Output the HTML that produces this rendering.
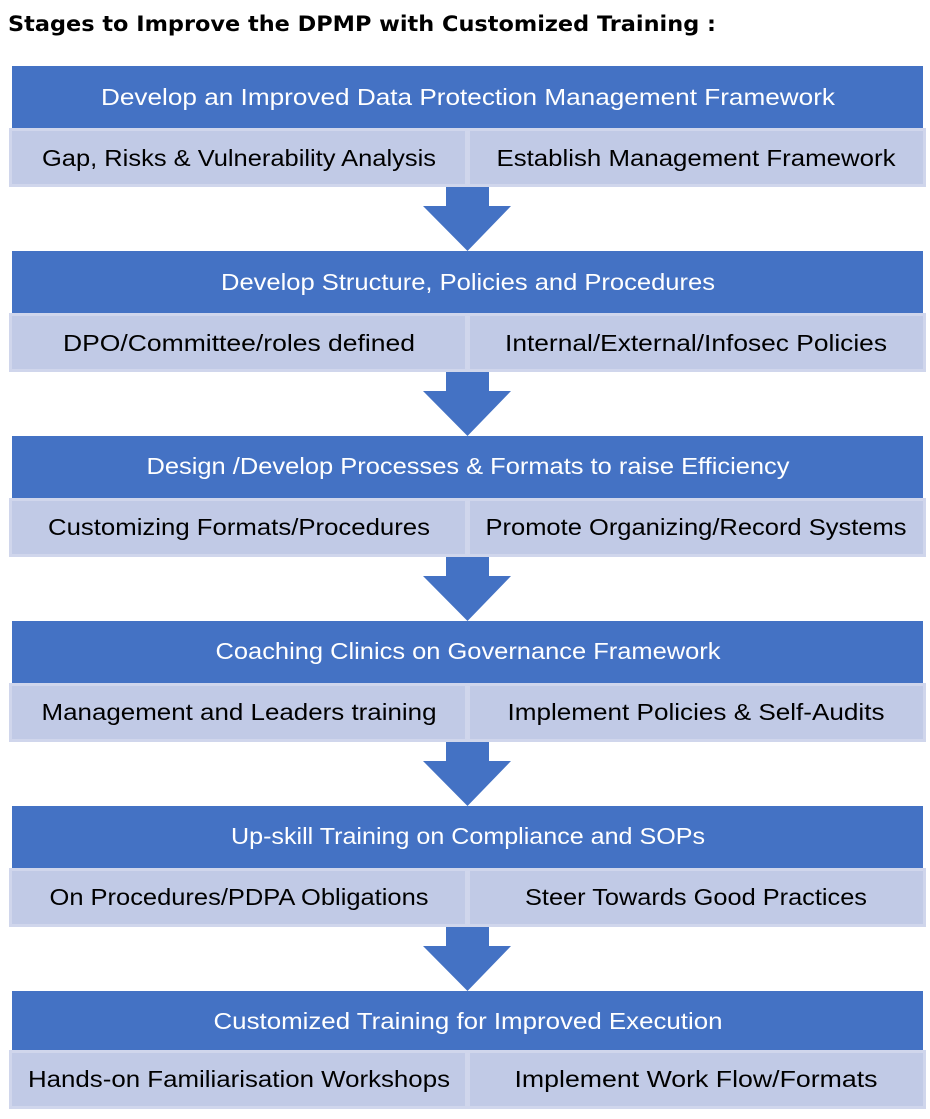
<!DOCTYPE html>
<html>
<head>
<meta charset="utf-8">
<style>
  html, body { margin: 0; padding: 0; background: #ffffff; }
  body { width: 930px; height: 1119px; overflow: hidden; }
  svg { display: block; }
  .t { font-family: "DejaVu Sans", "Liberation Sans", sans-serif; font-weight: bold; font-size: 21px; fill: #000; }
  .h { font-family: "Liberation Sans", sans-serif; font-size: 23px; fill: #ffffff; }
  .s { font-family: "Liberation Sans", sans-serif; font-size: 23px; fill: #000000; }
</style>
</head>
<body>
<svg width="930" height="1119" viewBox="0 0 930 1119" xmlns="http://www.w3.org/2000/svg">
  <defs>
    <g id="blk">
      <rect x="12" y="0" width="911" height="63" fill="#4472c4"/>
      <rect x="10.5" y="63.5" width="456" height="56" fill="#c1cae6" stroke="#d0d6ec" stroke-width="3"/>
      <rect x="468.5" y="63.5" width="456" height="56" fill="#c1cae6" stroke="#d0d6ec" stroke-width="3"/>
    </g>
    <polygon id="arr" points="446,0 489,0 489,19 511,19 467.5,64 423,19 446,19" fill="#4472c4"/>
  </defs>

  <text class="t" x="8" y="31" textLength="708" lengthAdjust="spacingAndGlyphs">Stages to Improve the DPMP with Customized Training :</text>

  <!-- Block 1 -->
  <g transform="translate(0,66)">
    <use href="#blk"/>
    <use href="#arr" transform="translate(0,121)"/>
    <text class="h" x="468" y="39" text-anchor="middle" textLength="734" lengthAdjust="spacingAndGlyphs">Develop an Improved Data Protection Management Framework</text>
    <text class="s" x="239" y="100" text-anchor="middle" textLength="394" lengthAdjust="spacingAndGlyphs">Gap, Risks &amp; Vulnerability Analysis</text>
    <text class="s" x="696" y="100" text-anchor="middle" textLength="399" lengthAdjust="spacingAndGlyphs">Establish Management Framework</text>
  </g>

  <!-- Block 2 -->
  <g transform="translate(0,251)">
    <use href="#blk"/>
    <use href="#arr" transform="translate(0,121)"/>
    <text class="h" x="468" y="39" text-anchor="middle" textLength="494" lengthAdjust="spacingAndGlyphs">Develop Structure, Policies and Procedures</text>
    <text class="s" x="239" y="100" text-anchor="middle" textLength="352" lengthAdjust="spacingAndGlyphs">DPO/Committee/roles defined</text>
    <text class="s" x="696" y="100" text-anchor="middle" textLength="382" lengthAdjust="spacingAndGlyphs">Internal/External/Infosec Policies</text>
  </g>

  <!-- Block 3 -->
  <g transform="translate(0,436)">
    <use href="#blk"/>
    <use href="#arr" transform="translate(0,121)"/>
    <text class="h" x="468" y="38" text-anchor="middle" textLength="643" lengthAdjust="spacingAndGlyphs">Design /Develop Processes &amp; Formats to raise Efficiency</text>
    <text class="s" x="239" y="99" text-anchor="middle" textLength="382" lengthAdjust="spacingAndGlyphs">Customizing Formats/Procedures</text>
    <text class="s" x="696" y="99" text-anchor="middle" textLength="421" lengthAdjust="spacingAndGlyphs">Promote Organizing/Record Systems</text>
  </g>

  <!-- Block 4 -->
  <g transform="translate(0,621)">
    <use href="#blk"/>
    <use href="#arr" transform="translate(0,121)"/>
    <text class="h" x="468" y="38" text-anchor="middle" textLength="505" lengthAdjust="spacingAndGlyphs">Coaching Clinics on Governance Framework</text>
    <text class="s" x="239" y="99" text-anchor="middle" textLength="395" lengthAdjust="spacingAndGlyphs">Management and Leaders training</text>
    <text class="s" x="696" y="99" text-anchor="middle" textLength="377" lengthAdjust="spacingAndGlyphs">Implement Policies &amp; Self-Audits</text>
  </g>

  <!-- Block 5 -->
  <g transform="translate(0,806)">
    <use href="#blk"/>
    <use href="#arr" transform="translate(0,121)"/>
    <text class="h" x="468" y="38" text-anchor="middle" textLength="474" lengthAdjust="spacingAndGlyphs">Up-skill Training on Compliance and SOPs</text>
    <text class="s" x="239" y="99" text-anchor="middle" textLength="379" lengthAdjust="spacingAndGlyphs">On Procedures/PDPA Obligations</text>
    <text class="s" x="696" y="99" text-anchor="middle" textLength="342" lengthAdjust="spacingAndGlyphs">Steer Towards Good Practices</text>
  </g>

  <!-- Block 6 -->
  <g transform="translate(0,991)">
    <rect x="12" y="0" width="911" height="60" fill="#4472c4"/>
    <rect x="10.5" y="60.5" width="456" height="56" fill="#c1cae6" stroke="#d0d6ec" stroke-width="3"/>
    <rect x="468.5" y="60.5" width="456" height="56" fill="#c1cae6" stroke="#d0d6ec" stroke-width="3"/>
    <text class="h" x="468" y="38" text-anchor="middle" textLength="509" lengthAdjust="spacingAndGlyphs">Customized Training for Improved Execution</text>
    <text class="s" x="239" y="96" text-anchor="middle" textLength="422" lengthAdjust="spacingAndGlyphs">Hands-on Familiarisation Workshops</text>
    <text class="s" x="696" y="96" text-anchor="middle" textLength="363" lengthAdjust="spacingAndGlyphs">Implement Work Flow/Formats</text>
  </g>
</svg>
</body>
</html>
